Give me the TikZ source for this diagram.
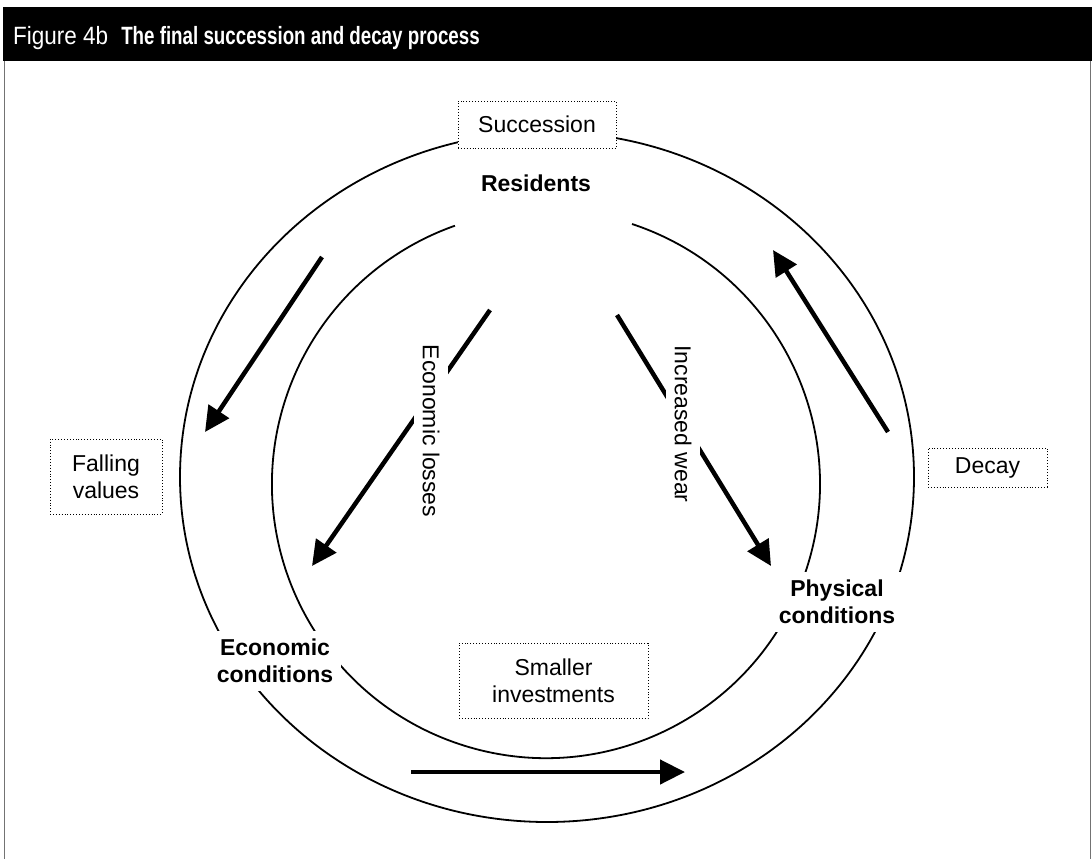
\documentclass[tikz,border=0pt]{standalone}
\usepackage{fontspec}
\setmainfont{Liberation Sans}
\usetikzlibrary{arrows.meta}

\begin{document}
\begin{tikzpicture}[x=1pt,y=-1pt,
  ring/.style={line width=1.8pt},
  frameline/.style={draw=black!55, line width=1.6pt},
  flow/.style={line width=4.5pt, -{Triangle[length=25pt,width=24pt]}},
  tagbox/.style={draw, dotted, line width=0.9pt, fill=white, align=center,
    font=\fontsize{23}{27}\selectfont, inner sep=0pt},
  stage/.style={fill=white, align=center, inner sep=8pt,
    font=\fontsize{23}{27}\selectfont\bfseries},
  sidetext/.style={fill=white, rotate=-90, inner xsep=2pt, inner ysep=9pt,
    font=\fontsize{23}{27}\selectfont}
]
\useasboundingbox (0,0) rectangle (1092,859);

% title bar and side rules
\fill[black] (3,7) rectangle (1092,61);
\node[anchor=base west, text=white, inner sep=0pt] (title) at (13,45)
  {\fontsize{25}{29}\selectfont
   \scalebox{0.9}[1]{Figure 4b}\hspace{13pt}%
   \scalebox{0.75}[1]{\bfseries The final succession and decay process}};
\draw[frameline] (4.5,61) -- (4.5,859);
\draw[frameline] (1090.5,61) -- (1090.5,859);

% the two rings
\draw[ring] (547,477) ellipse [x radius=367pt, y radius=345pt];
\draw[ring] (632,224) arc[start angle=71.7, end angle=-250.6, radius=274pt];

% stage labels
\node[font=\fontsize{23}{27}\selectfont\bfseries] (res) at (536,183) {Residents};
\node[stage] (eco) at (275,661) {Economic\\conditions};
\node[stage] (phy) at (837,602) {Physical\\conditions};

% dotted tags
\node[tagbox, minimum width=158pt, minimum height=47pt] (succ) at (537,124.5) {Succession};
\node[tagbox, minimum width=112pt, minimum height=75pt] (fall) at (106,476.5) {Falling\\values};
\node[tagbox, minimum width=119pt, minimum height=39pt] (decay) at (987.5,467.5) {Decay};
\node[tagbox, minimum width=189pt, minimum height=75pt] (inv) at (553.5,680.5) {Smaller\\investments};

% arrow end points
\coordinate (a1s) at (322,257);  \coordinate (a1e) at (205,432);
\coordinate (a2s) at (490,310);  \coordinate (a2e) at (312,566);
\coordinate (a3s) at (617,315);  \coordinate (a3e) at (771,566);
\coordinate (a4s) at (888,432);  \coordinate (a4e) at (773,250);
\coordinate (a5s) at (411,772);  \coordinate (a5e) at (685,772);

\draw[flow] (a1s) -- (a1e);
\draw[flow] (a2s) -- (a2e);
\draw[flow] (a3s) -- (a3e);
\draw[flow] (a4s) -- (a4e);
\draw[flow] (a5s) -- (a5e);

% labels across the inner arrows
\node[sidetext] (loss) at (431,431) {Economic losses};
\node[sidetext] (wear) at (683,424) {Increased wear};
\end{tikzpicture}
\end{document}
